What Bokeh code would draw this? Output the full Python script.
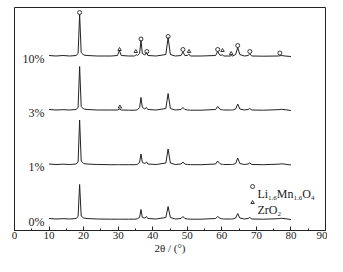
from bokeh.plotting import figure
from bokeh.models import SingleIntervalTicker, Range1d
from bokeh.core.properties import value
from bokeh.embed import file_html
from bokeh.resources import INLINE

# ---- data ----
angles = [10.0, 12.0, 14.0, 16.0, 17.8, 18.4, 18.85, 19.3, 20.0, 21.0,
          24.0, 28.0, 29.8, 30.35, 30.9, 33.0, 34.8, 35.2, 35.6, 36.2,
          36.6, 37.0, 37.7, 38.2, 38.6, 41.0, 43.8, 44.45, 45.1, 46.5,
          48.2, 48.75, 49.3, 50.0, 50.45, 50.9, 54.0, 58.2, 58.8, 59.4,
          59.8, 60.15, 60.5, 62.4, 62.75, 63.1, 64.0, 64.6, 65.2, 66.5,
          67.6, 68.1, 68.7, 72.0, 76.3, 77.3, 78.3, 80.0]

int_10 = [1, 0.5, 1, 0.5, 1, 3, 42, 4, 1.5, 1,
          0.5, 0.5, 1, 6, 1, 0.5, 0.5, 2, 1, 3,
          16, 3, 1.5, 4, 1, 0.5, 2, 19, 2, 0.5,
          1, 4.5, 1, 1, 2.5, 0.5, 0.5, 1, 5, 1.5,
          1, 2, 0.5, 0.5, 1, 0.5, 2, 9, 2, 0.5,
          1, 2.5, 0.5, 0.3, 0.5, 1, 0.5, 0]
int_3 = [1, 0.5, 0.8, 0.5, 1, 3, 44, 4, 1.5, 1,
         0.5, 0.5, 0.5, 1.5, 0.5, 0.3, 0.3, 0.5, 0.8, 3,
         13, 3, 1.5, 3, 1, 0.5, 2, 17, 2, 0.5,
         1, 3, 1, 0.5, 0.5, 0.3, 0.3, 1, 4, 1.5,
         0.8, 0.8, 0.5, 0.5, 0.5, 0.5, 1.5, 6.5, 1.5, 0.5,
         1, 2, 0.5, 0.3, 0.8, 1.2, 0.8, 0]
int_1 = [1, 0.5, 0.8, 0.5, 1, 3, 45, 4, 1.5, 1,
         0.5, 0.3, 0.3, 0.3, 0.3, 0.3, 0.3, 0.5, 0.8, 2.5,
         11, 2.5, 1.5, 3, 1, 0.5, 2, 16, 2, 0.5,
         1, 3, 1, 0.5, 0.5, 0.3, 0.3, 1, 4, 1.5,
         0.8, 0.8, 0.5, 0.5, 0.5, 0.5, 1.5, 7, 1.5, 0.5,
         1, 2, 0.5, 0.3, 0.8, 1.2, 0.8, 0]
int_0 = [1, 0.5, 0.8, 0.5, 1, 3, 35, 3.5, 1.5, 1,
         0.5, 0.3, 0.3, 0.3, 0.3, 0.3, 0.3, 0.5, 0.8, 2,
         10, 2, 1.5, 3, 1, 0.5, 2, 13, 2, 0.5,
         1, 3, 1, 0.5, 0.5, 0.3, 0.3, 1, 3, 1.5,
         0.8, 0.8, 0.5, 0.5, 0.5, 0.5, 1.5, 6, 1.5, 0.5,
         1, 2, 0.5, 0.3, 0.8, 1.2, 0.8, 0]

series_labels = ["10%", "3%", "1%", "0%"]
series_offsets = [181, 127, 72.5, 18]
series_values = [int_10, int_3, int_1, int_0]

lmo_angles = [18.85, 36.6, 38.3, 44.45, 48.75, 58.8, 64.6, 68.1, 76.8]
lmo_marks_10 = [44, 17.5, 5, 20, 7, 7, 11, 5, 3.5]
zro2_angles = [30.4, 35.1, 50.5, 60.2, 62.7]
zro2_marks_10 = [7, 5, 5, 6, 3]
zro2_angles_3 = [30.5]
zro2_marks_3 = [3.5]

x_ticks_interval = 10
xlabel = "2θ / (°)"

# ---- figure ----
INK = "#222222"
SERIF = "Liberation Serif"

p = figure(width=327, height=256, x_range=Range1d(0, 90), y_range=Range1d(7, 230),
           y_axis_location=None, output_backend="svg", toolbar_location=None,
           min_border_left=14, min_border_right=2, min_border_top=7, min_border_bottom=26)
p.xgrid.visible = False
p.ygrid.visible = False
p.outline_line_color = INK
p.outline_line_width = 1
p.outline_line_alpha = 1
p.background_fill_color = "white"
p.border_fill_color = "white"

ax = p.xaxis[0]
ax.ticker = SingleIntervalTicker(interval=x_ticks_interval, num_minor_ticks=2)
ax.major_tick_in = 4
ax.major_tick_out = 0
ax.minor_tick_in = 2
ax.minor_tick_out = 0
ax.axis_line_color = INK
ax.major_tick_line_color = INK
ax.minor_tick_line_color = INK
ax.major_label_text_font = SERIF
ax.major_label_text_font_size = "11px"
ax.major_label_text_color = INK
ax.major_label_standoff = 1
ax.axis_label = xlabel
ax.axis_label_text_font = SERIF
ax.axis_label_text_font_size = "11px"
ax.axis_label_text_font_style = "normal"
ax.axis_label_text_color = INK
ax.axis_label_standoff = 0

for lab, off, vals in zip(series_labels, series_offsets, series_values):
    ys = [v + off for v in vals]
    p.line(angles, ys, line_color=INK, line_width=1)
    p.text(x=[8.7], y=[off - 2], text=[lab], text_align="right", text_baseline="alphabetic",
           text_font=value(SERIF), text_font_size="12px", text_color=INK)

off10 = series_offsets[0]
off3 = series_offsets[1]
p.scatter(lmo_angles, [m + off10 for m in lmo_marks_10], marker="circle", size=4,
          fill_color=None, line_color=INK, line_width=0.9)
p.scatter(zro2_angles, [m + off10 for m in zro2_marks_10], marker="triangle", size=3.5,
          fill_color=None, line_color=INK, line_width=0.9)
p.scatter(zro2_angles_3, [m + off3 for m in zro2_marks_3], marker="triangle", size=3.5,
          fill_color=None, line_color=INK, line_width=0.9)

# ---- legend ----
p.scatter([68.9], [51], marker="circle", size=4, fill_color=None, line_color=INK, line_width=0.9)
p.scatter([68.9], [35], marker="triangle", size=3.5, fill_color=None, line_color=INK, line_width=0.9)

W = {'L': .611, 'i': .278, 'M': .889, 'n': .5, 'O': .722, 'Z': .611, 'r': .333,
     '1': .5, '.': .25, '6': .5, '4': .5, '2': .5}

def rich(x, y, parts):
    off = 0.0
    for t, size, dy in parts:
        p.text(x=[x], y=[y - dy], text=[t], x_offset=off, text_align="left",
               text_baseline="alphabetic", text_font=value(SERIF),
               text_font_size=f"{size}px", text_color=INK)
        off += sum(W.get(c, .5) for c in t) * size

rich(70.3, 43.5, [("Li", 12, 0), ("1.6", 7, 4), ("Mn", 12, 0), ("1.6", 7, 4), ("O", 12, 0), ("4", 7, 4)])
rich(70.3, 28, [("ZrO", 12, 0), ("2", 7, 4)])

open("out.html", "w").write(file_html(p, INLINE))
